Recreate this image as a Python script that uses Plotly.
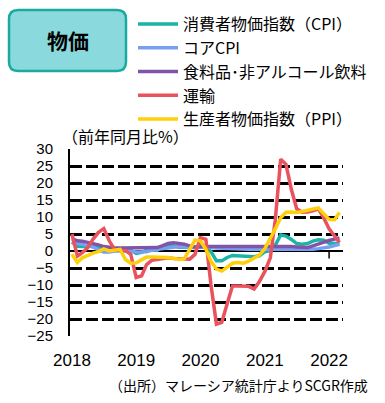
import plotly.graph_objects as go
import pandas as pd

# ---- data (monthly, y/y %) ----
months = pd.date_range("2018-01-01", "2022-03-01", freq="MS")

cpi = [2.7, 1.4, 1.3, 1.4, 1.8, 0.8, 0.9, 0.2, 0.3, 0.6, 0.2, 0.2,
       -0.7, -0.4, 0.2, 0.2, 0.2, 1.5, 1.4, 1.5, 1.1, 1.1, 0.9, 1.0,
       1.6, 1.3, -0.2, -2.9, -2.9, -1.9, -1.3, -1.4, -1.4, -1.5, -1.7, -1.4,
       -0.2, 0.1, 1.7, 4.7, 4.4, 3.4, 2.2, 2.0, 2.2, 2.9, 3.3, 3.2,
       2.3, 2.2, 2.2]
core = [2.4, 2.2, 2.0, 1.5, 1.2, 0.3, -0.3, -0.3, 0.0, 0.0, 0.0, -0.1,
        -0.3, -0.3, -0.2, 0.3, 0.5, 0.8, 1.1, 1.3, 1.3, 1.2, 1.2, 1.2,
        1.2, 1.1, 1.0, 0.9, 0.8, 0.7, 0.6, 0.6, 0.6, 0.5, 0.5, 0.5,
        0.5, 0.5, 0.5, 0.5, 0.4, 0.4, 0.4, 0.4, 0.4, 0.5, 0.7, 0.9,
        1.2, 1.6, 2.0]
food = [3.6, 3.0, 2.9, 2.6, 2.2, 1.8, 1.3, 1.0, 0.9, 0.9, 0.9, 0.9,
        0.9, 0.9, 1.0, 1.0, 1.0, 1.6, 2.2, 2.4, 2.3, 2.0, 1.5, 1.2,
        1.3, 1.3, 1.3, 1.4, 1.4, 1.4, 1.4, 1.4, 1.4, 1.4, 1.5, 1.5,
        1.5, 1.5, 1.4, 1.4, 1.3, 1.3, 1.2, 1.1, 1.0, 1.5, 2.1, 2.6,
        3.1, 3.5, 3.8]
transport = [5.0, -1.5, -0.5, 1.0, 3.5, 5.5, 6.6, 3.0, 0.4, 0.2, 0.1, -1.0,
             -7.8, -7.3, -4.0, -2.7, -2.5, -2.2, -2.0, -2.2, -2.2, -2.3, -2.4, -1.0,
             3.9, 3.4, -10.0, -21.5, -21.0, -15.5, -10.3, -10.3, -10.3, -10.4, -11.2, -9.0,
             -6.0, -2.0, 9.0, 27.0, 25.5, 18.0, 12.4, 11.4, 11.5, 11.8, 12.4, 9.8,
             6.5, 4.2, 2.5]
ppi = [-1.0, -3.4, -2.0, -1.2, -0.6, -0.2, 0.6, 0.0, 0.3, 0.5, -2.5, -3.6,
       -3.5, -2.5, -1.8, -1.8, -1.8, -1.8, -1.9, -2.1, -2.5, -2.3, 0.5, 3.2,
       3.0, 0.5, -3.0, -5.3, -5.9, -4.6, -3.6, -3.4, -3.6, -3.0, -2.2, -1.2,
       0.7, 3.5, 6.5, 9.8, 11.4, 11.5, 11.3, 11.6, 12.0, 12.3, 12.7, 11.0,
       9.3, 9.2, 11.3]

series_names = ["消費者物価指数（CPI）", "コアCPI", "食料品･非アルコール飲料", "運輸", "生産者物価指数（PPI）"]
series_values = [cpi, core, food, transport, ppi]
series_colors = ["#1bb3a6", "#789ff2", "#8055a8", "#e8535e", "#ffcf0a"]

year_ticks = ["2018-01-01", "2019-01-01", "2020-01-01", "2021-01-01", "2022-01-01"]
year_labels = ["2018", "2019", "2020", "2021", "2022"]
y_ticks = list(range(-25, 31, 5))

FONT = "Noto Sans CJK JP"
NUMFONT = "Liberation Sans"

fig = go.Figure()
for name, vals, col in zip(series_names, series_values, series_colors):
    fig.add_trace(go.Scatter(x=months, y=vals, name=name, mode="lines",
                             line=dict(color=col, width=3.5)))

# layout geometry (pixels)
W, H = 385, 403
L, R, T, B = 70, 42, 149, 67
pw, ph = W - L - R, H - T - B


def px(x):
    return (x - L) / pw


def py(y):
    return (H - B - y) / ph


# rounded title box
x0, x1, y0, y1, r = 9, 126, 10, 71, 9
path = (f"M {px(x0 + r)} {py(y0)} L {px(x1 - r)} {py(y0)} "
        f"Q {px(x1)} {py(y0)} {px(x1)} {py(y0 + r)} L {px(x1)} {py(y1 - r)} "
        f"Q {px(x1)} {py(y1)} {px(x1 - r)} {py(y1)} L {px(x0 + r)} {py(y1)} "
        f"Q {px(x0)} {py(y1)} {px(x0)} {py(y1 - r)} L {px(x0)} {py(y0 + r)} "
        f"Q {px(x0)} {py(y0)} {px(x0 + r)} {py(y0)} Z")
fig.add_shape(type="path", path=path, xref="paper", yref="paper",
              fillcolor="#8ad9dc", line=dict(color="#1aab9e", width=2.5), layer="above")
fig.add_annotation(x=px((x0 + x1) / 2), y=py((y0 + y1) / 2), xref="paper", yref="paper",
                   xanchor="center", yanchor="middle",
                   text="<b>物価</b>", showarrow=False,
                   font=dict(family=FONT, size=21, color="black"))

# small tick on zero line at 2022
fig.add_shape(type="line", x0=year_ticks[-1], x1=year_ticks[-1], y0=0, y1=-2.2,
              xref="x", yref="y", line=dict(color="black", width=1.5))

fig.add_annotation(x=px(60), y=py(136), xref="paper", yref="paper", xanchor="left",
                   yanchor="middle", text="（前年同月比%）", showarrow=False,
                   font=dict(family=FONT, size=16, color="black"))
fig.add_annotation(x=px(370), y=py(385), xref="paper", yref="paper", xanchor="right",
                   yanchor="middle", text="（出所）マレーシア統計庁よりSCGR作成", showarrow=False,
                   font=dict(family=FONT, size=14, color="black"))

fig.update_layout(
    width=W, height=H,
    margin=dict(l=L, r=R, t=T, b=B, pad=0, autoexpand=False),
    paper_bgcolor="white", plot_bgcolor="white",
    font=dict(family=FONT, color="black"),
    showlegend=True,
    legend=dict(x=px(133), y=py(7), xanchor="left", yanchor="top",
                font=dict(family=FONT, size=16, color="black"),
                bgcolor="rgba(0,0,0,0)", tracegroupgap=0, itemwidth=40),
    xaxis=dict(range=["2017-12-21", "2022-03-21"], tickvals=year_ticks, ticktext=year_labels,
               showgrid=False, showline=False, zeroline=False, ticks="",
               tickfont=dict(family=NUMFONT, size=17, color="black"), ticklabelstandoff=12),
    yaxis=dict(range=[-25, 30], tickvals=y_ticks, showgrid=True, gridcolor="black",
               gridwidth=3, griddash="12px,4px", zeroline=True, zerolinecolor="black",
               zerolinewidth=1.5, showline=True, linecolor="black", linewidth=2,
               ticks="", tickfont=dict(family=NUMFONT, size=15, color="black"),
               ticklabelstandoff=12),
)

fig.write_html("out.html", config={"displayModeBar": False},
               post_script="document.body.style.margin='0';document.body.style.padding='0';")
